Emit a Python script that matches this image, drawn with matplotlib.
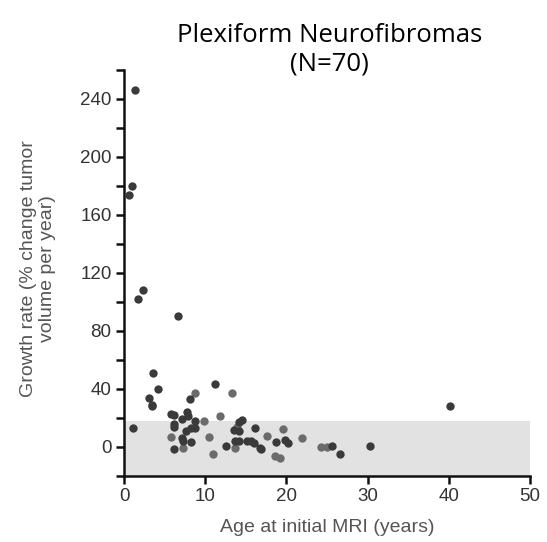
import matplotlib.pyplot as plt
import numpy as np

# Age at initial MRI (years) and growth rate (% change per year)
age_dark = [1.35, 1.0, 0.6, 2.3, 1.7, 6.6, 3.6, 4.2, 3.1, 3.4, 3.5, 1.15,
            5.8, 6.2, 7.7, 7.9, 8.1, 11.2, 7.2, 6.1, 6.2, 8.8, 7.6, 8.3,
            8.7, 7.1, 7.3, 8.25, 6.2, 12.6, 13.5, 14.2, 14.5, 14.1, 13.7,
            14.2, 15.1, 15.6, 16.0, 16.1, 16.7, 16.9, 18.7, 19.8, 20.2,
            25.6, 26.6, 30.3, 40.1]
rate_dark = [246, 180, 174, 108.5, 102, 90, 51, 40, 34, 29, 28, 13,
             23, 22, 24, 21.5, 33, 43.6, 19, 16, 14, 18, 11, 12.8,
             12.8, 6, 4, 3.2, -1.5, 0.7, 11.7, 11.2, 18.6, 17.4, 4.1,
             4.1, 4.1, 4.1, 3, 13.3, -0.5, -1.4, 3.6, 4.8, 2.5,
             0.7, -5, 0.7, 28.2]
age_light = [8.7, 13.3, 9.9, 11.8, 13.9, 5.75, 10.5, 7.3, 11.0, 13.7,
             17.6, 19.6, 21.9, 18.6, 19.2, 24.3, 25.0]
rate_light = [37.4, 37, 18, 21.4, 14, 7, 7, -1, -5, -1,
              7.6, 12.4, 6, -6.2, -7.8, 0.2, 0.2]

band_top = 18

fig = plt.figure(figsize=(5.47, 5.42), dpi=100)
ax = fig.add_axes([0.2267, 0.1218, 0.9690 - 0.2267, 0.871 - 0.1218])

ax.axhspan(-20, band_top, xmin=0, xmax=1, color="#e2e2e2", zorder=0, lw=0)
ax.scatter(age_light, rate_light, s=36, color="#6b6b6b", zorder=2,
           clip_on=False, linewidths=0)
ax.scatter(age_dark, rate_dark, s=36, color="#3a3a3a", zorder=3,
           clip_on=False, linewidths=0)

ax.set_xlim(0, 50)
ax.set_ylim(-20, 260)
ax.set_xticks(np.arange(0, 51, 10))
ax.set_yticks(np.arange(0, 241, 40))
ax.set_yticks(np.arange(-20, 261, 40), minor=True)

for side in ["top", "right"]:
    ax.spines[side].set_visible(False)
for side in ["left", "bottom"]:
    ax.spines[side].set_linewidth(1.8)
    ax.spines[side].set_color("#111111")

ax.tick_params(which="both", direction="out", length=6, width=1.8,
               color="#111111", labelsize=13.5, labelcolor="#333333", pad=3)
for lab in ax.get_xticklabels() + ax.get_yticklabels():
    lab.set_family("Liberation Sans")

ax.set_xlabel("Age at initial MRI (years)", fontsize=14, color="#555555",
              family="Liberation Sans", labelpad=10)
ax.set_ylabel("Growth rate (% change tumor\nvolume per year)", fontsize=14,
              color="#555555", family="Liberation Sans", linespacing=1.1)
ax.yaxis.set_label_coords(-0.168, 0.512)

fig.text(0.603, 0.859, "Plexiform Neurofibromas\n(N=70)", ha="center",
         va="bottom", fontsize=18.5, family="Open Sans", linespacing=1.2)

fig.savefig("out.png", dpi=100)
